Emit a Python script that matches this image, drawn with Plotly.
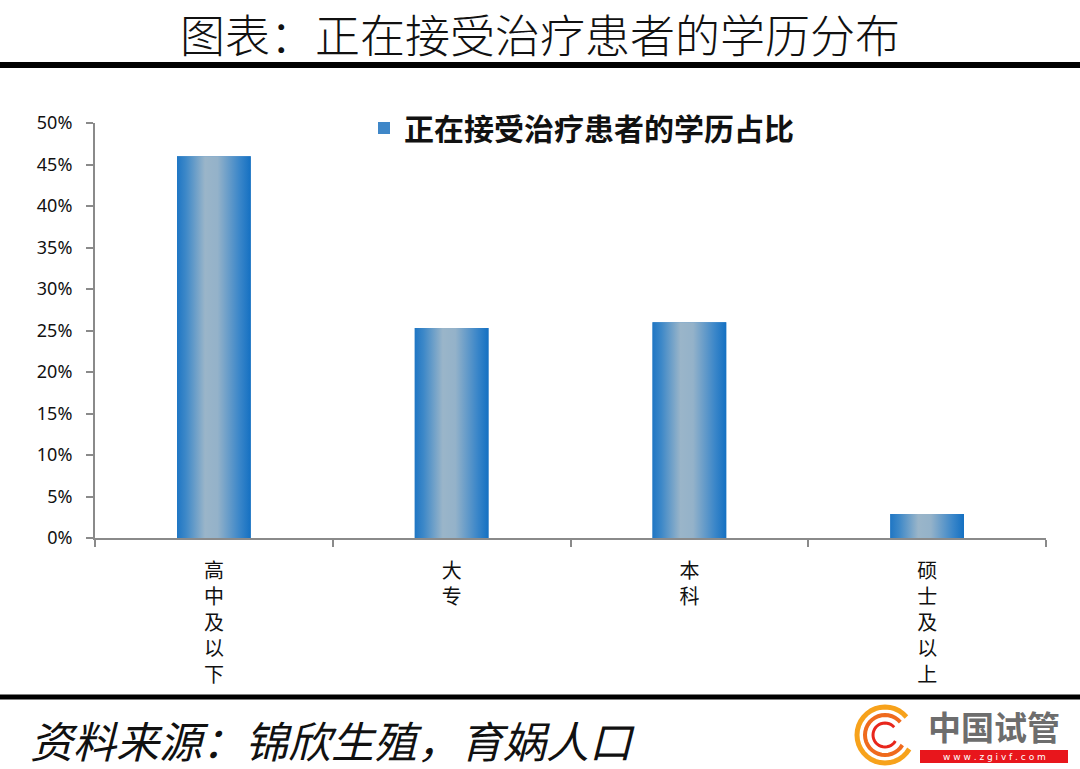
import numpy as np
import plotly.graph_objects as go

categories = ["高中及以下", "大专", "本科", "硕士及以上"]
values = [0.460, 0.253, 0.260, 0.029]
series_name = "正在接受治疗患者的学历占比"
y_ticks = [0, 0.05, 0.10, 0.15, 0.20, 0.25, 0.30, 0.35, 0.40, 0.45, 0.50]
y_tick_labels = ["0%", "5%", "10%", "15%", "20%", "25%", "30%", "35%", "40%", "45%", "50%"]
title_text = "图表：正在接受治疗患者的学历分布"
source_text = "资料来源：锦欣生殖，育娲人口"

W, H = 1080, 769
L, R, T, B = 95, 1046, 123, 538
BAR_W = 0.31
CJK = "Noto Sans CJK SC"


def px(x, y):
    return (x - L) / (R - L), (B - y) / (B - T)


xs = list(range(len(categories)))
fig = go.Figure()
fig.add_trace(go.Bar(
    x=xs, y=values, width=BAR_W, name=series_name,
    marker=dict(color="#3f87c8", line=dict(width=0)),
    hoverinfo="skip",
))
for i, v in zip(xs, values):
    x0, x1 = i - BAR_W / 2, i + BAR_W / 2
    fig.add_trace(go.Scatter(
        x=[x0, x0, x1, x1, x0], y=[0, v, v, 0, 0],
        mode="lines", fill="toself", line=dict(width=0),
        fillgradient=dict(type="horizontal", start=x0, stop=x1,
                          colorscale=[[0, "#1f76c4"], [0.12, "#3d88c8"],
                                      [0.38, "#9ab5c9"], [0.55, "#94b2c9"],
                                      [0.85, "#3a86c9"], [1, "#1470c2"]]),
        showlegend=False, hoverinfo="skip",
    ))

shapes = []
# top and bottom black rules
lx0, ly = px(0, 65)
lx1, _ = px(W, 65)
shapes.append(dict(type="line", xref="paper", yref="paper", x0=lx0, x1=lx1, y0=ly, y1=ly,
                   line=dict(color="#000000", width=6)))
_, ly2 = px(0, 697)
shapes.append(dict(type="line", xref="paper", yref="paper", x0=lx0, x1=lx1, y0=ly2, y1=ly2,
                   line=dict(color="#000000", width=5)))
# watermark red box
bx0, by0 = px(920, 750)
bx1, by1 = px(1068, 763)
shapes.append(dict(type="rect", xref="paper", yref="paper", x0=bx0, x1=bx1, y0=by1, y1=by0,
                   fillcolor="#e8161c", line=dict(width=0)))
# watermark swirl
cx, cy = 885, 735
for rad, col, wdt in [(28, "#f7a21b", 5), (20, "#ef6a1d", 4), (12, "#e8261c", 3)]:
    ang = np.linspace(np.deg2rad(40), np.deg2rad(330), 30)
    pts = [px(cx + rad * np.cos(a), cy - rad * np.sin(a)) for a in ang]
    path = "M " + " L ".join(f"{a:.5f},{b:.5f}" for a, b in pts)
    shapes.append(dict(type="path", xref="paper", yref="paper", path=path,
                       line=dict(color=col, width=wdt)))

annotations = []
sx, sy = px(28, 739)
annotations.append(dict(text=f"<i>{source_text}</i>", xref="paper", yref="paper", x=sx, y=sy,
                        xanchor="left", yanchor="middle", showarrow=False,
                        font=dict(family=CJK, size=43, color="#111111")))
wx, wy = px(994, 726)
annotations.append(dict(text="中国试管", xref="paper", yref="paper", x=wx, y=wy,
                        xanchor="center", yanchor="middle", showarrow=False,
                        font=dict(family=CJK, size=33, color="#6d6d6d", weight="bold")))
ux, uy = px(994, 756.5)
annotations.append(dict(text="w w w . z g i v f . c o m", xref="paper", yref="paper", x=ux, y=uy,
                        xanchor="center", yanchor="middle", showarrow=False,
                        font=dict(family="DejaVu Sans", size=9, color="#ffffff")))

gx, gy = px(364, 128)
fig.update_layout(
    width=W, height=H,
    margin=dict(l=L, r=W - R, t=T, b=H - B, pad=0),
    paper_bgcolor="white", plot_bgcolor="white",
    barmode="overlay",
    title=dict(text=title_text, x=0.5, xanchor="center", y=1 - 37 / H, yanchor="middle",
               xref="container",
               font=dict(family=CJK, size=45, color="#111111", weight=300)),
    showlegend=True,
    legend=dict(x=gx, y=gy, xanchor="left", yanchor="middle", bgcolor="rgba(0,0,0,0)",
                font=dict(family=CJK, size=30, color="#111111", weight="bold"),
                itemwidth=30, traceorder="normal"),
    xaxis=dict(range=[-0.5, len(categories) - 0.5], tickvals=xs,
               ticktext=["<br>".join(c) for c in categories],
               ticks="", showgrid=False, zeroline=False,
               showline=True, linecolor="#8a8a8a", linewidth=2,
               tickfont=dict(family=CJK, size=20, color="#111111"),
               minor=dict(tickvals=[i - 0.5 for i in range(len(categories) + 1)],
                          ticks="outside", ticklen=7, tickcolor="#8a8a8a", tickwidth=2,
                          showgrid=False),
               ticklabelstandoff=14, fixedrange=True),
    yaxis=dict(range=[0, 0.5], tickvals=y_ticks, ticktext=y_tick_labels,
               ticks="outside", ticklen=7, tickcolor="#8a8a8a", tickwidth=2,
               showgrid=False, zeroline=False,
               showline=True, linecolor="#8a8a8a", linewidth=2,
               tickfont=dict(family="Noto Sans", size=18, color="#111111"),
               ticklabelstandoff=10, fixedrange=True),
    shapes=shapes, annotations=annotations,
)
fig.write_html("out.html", config={"displayModeBar": False},
               post_script="document.body.style.margin='0';")
